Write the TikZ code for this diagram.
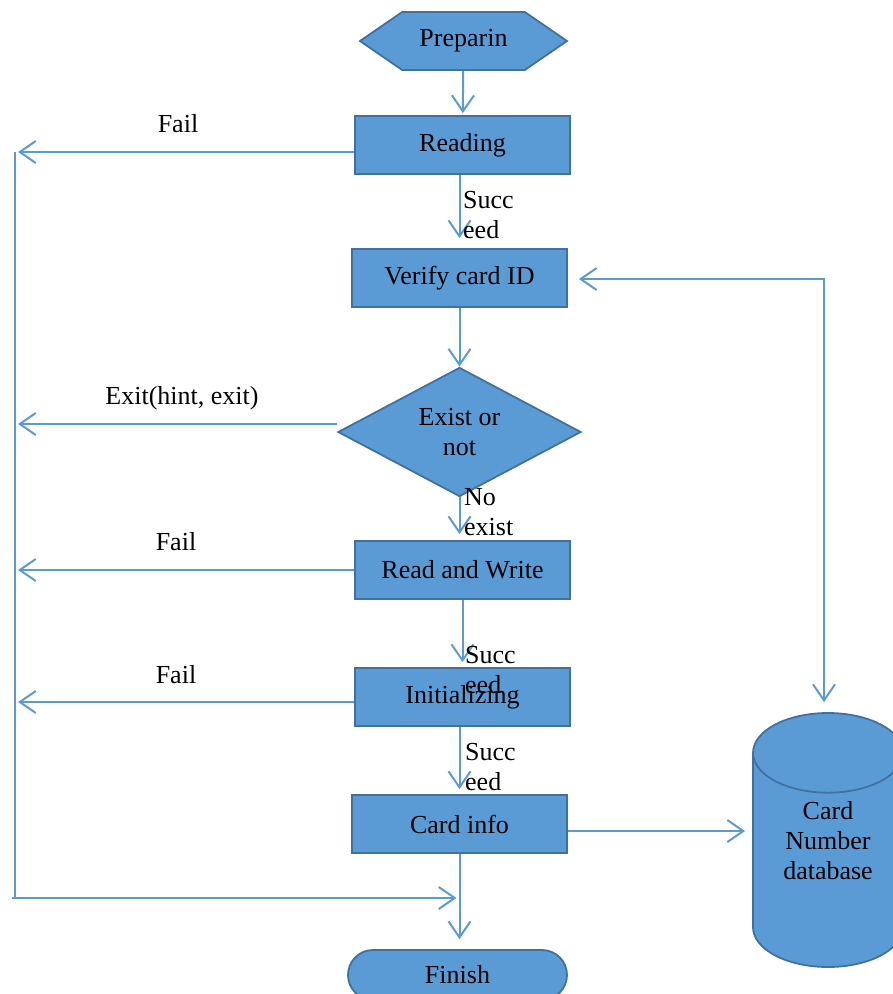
\documentclass[tikz,border=0pt]{standalone}
\usepackage{fontspec}
\setmainfont{Liberation Serif}
\usetikzlibrary{arrows.meta,shapes.geometric,shapes.symbols}
\definecolor{boxfill}{HTML}{5B9BD5}
\definecolor{boxedge}{HTML}{41719C}
\definecolor{linkblue}{HTML}{5B9BD5}
\begin{document}
\begin{tikzpicture}[x=1pt,y=-1pt,
  every node/.style={font=\fontsize{26}{30}\selectfont, text=black},
  shapestyle/.style={draw=boxedge, fill=boxfill, line width=1.8pt, inner sep=0pt},
  flowbox/.style={shapestyle, minimum width=215pt, minimum height=58pt},
  link/.style={draw=linkblue, line width=2pt},
  arr/.style={link, -{Straight Barb[length=16pt,width=22pt,line width=2pt]}},
  lbl/.style={anchor=west, align=left, inner sep=0pt}
]
\useasboundingbox (0,0) rectangle (893,994);
\clip (0,0) rectangle (893,994);

% process steps
\node[shapestyle, signal, signal to=west and east, signal pointer angle=69,
      minimum width=207pt, minimum height=58pt] (prep) at (463.5,41) {Preparin};
\node[flowbox] (read) at (462.5,145) {Reading};
\node[flowbox] (verify) at (459.5,278) {Verify card ID};
\node[shapestyle, diamond, minimum width=243pt, minimum height=124pt,
      align=center] (exist) at (459.5,432) {Exist or\\not};
\node[flowbox] (rw) at (462.5,570) {Read and Write};
\node[flowbox] (init) at (462.5,697) {Initializing};
\node[flowbox] (card) at (459.5,824) {Card info};
\node[shapestyle, rounded corners=25pt, minimum width=219pt,
      minimum height=50pt] (finish) at (457.5,975) {Finish};
% database; the blank strut line lifts the caption a little above the middle
\node[shapestyle, cylinder, shape border rotate=90, aspect=0.89,
      minimum width=150pt, minimum height=254pt, align=center,
      anchor=shape center] (db) at (828,840) {Card\\Number\\database\\\strut};

% main flow
\draw[arr, shorten >=2pt] (prep) -- (read);
\draw[arr, shorten >=10pt] (read.south -| verify) -- (verify.north);
\draw[arr] (verify.south) -- (exist.north);
\draw[arr, shorten >=6pt] (exist.south) -- (exist.south |- rw.north);
\draw[arr, shorten >=5pt] (rw.south) -- (init.north);
\draw[arr, shorten >=5pt] (init.south -| card) -- (card.north);
\draw[arr, shorten >=10pt] (card.south) -- (card.south |- finish.north);

% failure return bus on the left
\coordinate (lb) at (18,0);
\coordinate (bt) at (15,152);
\coordinate (bb) at (15,898);
\coordinate (bl) at (12,898);
\draw[link, line width=1.5pt] (bt) -- (bb);
\draw[arr] ([yshift=-7pt]read.west) -- ([yshift=-7pt]read.west -| lb);
\draw[arr] ([yshift=8pt]exist.west) -- ([yshift=8pt]exist.west -| lb);
\draw[arr] (rw.west) -- (rw.west -| lb);
\draw[arr] ([yshift=-5pt]init.west) -- ([yshift=-5pt]init.west -| lb);
\draw[arr, shorten >=3pt] (bl) -- (bl -| card.south);

% database links
\coordinate (rc) at (824,279);
\draw[link, {Straight Barb[length=16pt,width=22pt,line width=2pt]}-{Straight Barb[length=16pt,width=22pt,line width=2pt]},
      shorten <=11pt, shorten >=10pt] (verify.east |- rc) -- (rc) -- (rc |- db.north);
\draw[arr, shorten >=7pt] ([yshift=-7pt]card.east) -- ([yshift=-7pt]card.east -| db.west);

% connector labels
\node[lbl] (s1) at (463,215) {Succ\\eed};
\node[lbl] (s2) at (464,512) {No\\exist};
\node[lbl] (s3) at (465,670) {Succ\\eed};
\node[lbl] (s4) at (465,767) {Succ\\eed};
\node (f1) at (178,124) {Fail};
\node (e1) at (182,398) {Exit(hint, exit)};
\node (f2) at (176,542) {Fail};
\node (f3) at (176,675) {Fail};
\end{tikzpicture}
\end{document}
